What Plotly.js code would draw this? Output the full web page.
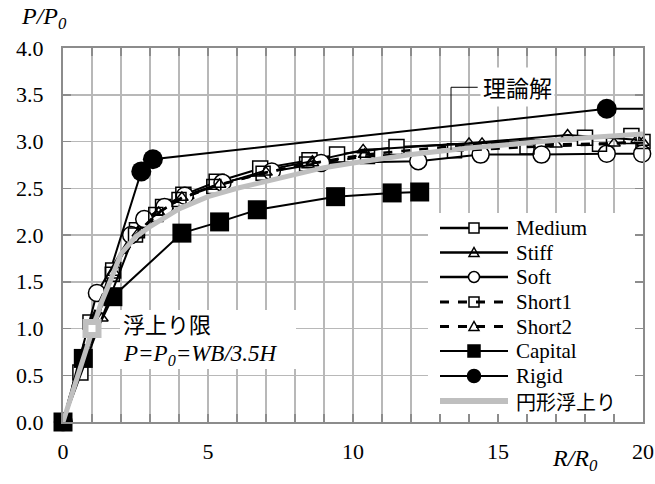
<!DOCTYPE html>
<html><head><meta charset="utf-8">
<script src="https://cdn.plot.ly/plotly-3.0.1.min.js"></script>
<style>body{margin:0;background:#fff}#c{width:655px;height:484px}</style>
</head><body><div id="c"></div>
<script>
// ---- data ----
const seriesNames = ['Medium','Stiff','Soft','Short1','Short2','Capital','Rigid','円形浮上り'];
const mediumX = [0,0.6,1.73,2.55,3.45,4.15,5.3,6.8,8.5,9.45,11.5,18.0,19.6];
const mediumY = [0,0.53,1.62,2.05,2.3,2.43,2.57,2.71,2.8,2.86,2.94,3.04,3.06];
const stiffX = [0,1.34,2.45,2.9,3.6,4.3,5.5,7.1,8.6,10.35,14.0,17.4,19.8];
const stiffY = [0,1.11,2.0,2.15,2.3,2.42,2.55,2.7,2.79,2.91,2.98,3.07,3.02];
const softX = [0,1.17,2.35,2.8,3.5,4.2,5.5,7.2,8.9,12.25,14.4,16.5,18.75,19.97];
const softY = [0,1.38,2.0,2.17,2.3,2.42,2.56,2.68,2.77,2.79,2.86,2.86,2.87,2.87];
const short1X = [0,0.93,1.7,2.5,3.2,4.0,5.2,6.9,8.4,10.5,13.5,16.0,18.5,20];
const short1Y = [0,1.07,1.58,2.0,2.22,2.38,2.52,2.66,2.76,2.84,2.9,2.94,2.97,3.0];
const short2X = [0,1.0,1.75,2.6,3.3,4.1,5.4,7.0,8.6,10.4,14.45,17.0,19.0,20];
const short2Y = [0,1.05,1.6,2.02,2.24,2.4,2.54,2.67,2.77,2.86,2.98,2.97,2.98,2.99];
const capitalX = [0,0.7,1.72,4.1,5.4,6.7,9.4,11.35,12.3];
const capitalY = [0,0.68,1.34,2.02,2.14,2.27,2.41,2.45,2.46];
const rigidX = [0,2.7,3.1,18.75,22];
const rigidY = [0,2.68,2.81,3.35,3.35];
const circX = [0,1,1.3,1.62,2,2.5,3,4,5,6,7,8,9,10,12,14,16,18,20];
const circY = [0,1,1.26,1.5,1.8,1.98,2.09,2.28,2.41,2.5,2.57,2.65,2.72,2.77,2.86,2.93,2.99,3.04,3.08];
const limitX = [1];
const limitY = [1];
const xTicks = [0,5,10,15,20];
const yTicks = [0,0.5,1,1.5,2,2.5,3,3.5,4];

const serif = 'Liberation Serif';
const cjk = 'Noto Sans CJK JP';

const traces = [
  {name:'Rigid', x:rigidX, y:rigidY, mode:'lines+markers', cliponaxis:true,
   line:{color:'#000',width:2}, marker:{symbol:'circle',size:20,color:'#000'}},
  {name:'Medium', x:mediumX, y:mediumY, mode:'lines+markers', cliponaxis:false,
   line:{color:'#000',width:2}, marker:{symbol:'square',size:15,color:'#fff',line:{color:'#000',width:1.5}}},
  {name:'Stiff', x:stiffX, y:stiffY, mode:'lines+markers', cliponaxis:false,
   line:{color:'#000',width:2}, marker:{symbol:'triangle-up-open',size:11,color:'#000',line:{width:1.5}}},
  {name:'Soft', x:softX, y:softY, mode:'lines+markers', cliponaxis:false,
   line:{color:'#000',width:2}, marker:{symbol:'circle',size:17,color:'#fff',line:{color:'#000',width:1.5}}},
  {name:'Short1', x:short1X, y:short1Y, mode:'lines+markers', cliponaxis:false,
   line:{color:'#000',width:2.5,dash:'dash'}, marker:{symbol:'square-open',size:14,color:'#000',line:{width:1.5}}},
  {name:'Short2', x:short2X, y:short2Y, mode:'lines+markers', cliponaxis:false,
   line:{color:'#000',width:2.5,dash:'dash'}, marker:{symbol:'triangle-up-open',size:11,color:'#000',line:{width:1.5}}},
  {name:'Capital', x:capitalX, y:capitalY, mode:'lines+markers', cliponaxis:false,
   line:{color:'#000',width:2}, marker:{symbol:'square',size:19,color:'#000'}},
  {name:'円形浮上り', x:circX, y:circY, mode:'lines', cliponaxis:false,
   line:{color:'#bfbfbf',width:5}},
  {name:'limit', x:limitX, y:limitY, mode:'markers', cliponaxis:false,
   marker:{symbol:'square',size:13,color:'#fff',line:{color:'#bfbfbf',width:6}}}
];

// ---- layout helpers (pixel -> paper) ----
const L = 63, R = 643, T = 48, B = 422;
const px = v => (v - L) / (R - L);
const py = v => (B - v) / (B - T);

const shapes = [
  {type:'line',xref:'x',yref:'y',x0:13.38,x1:13.38,y0:3.58,y1:2.91,line:{color:'#000',width:1}},
  {type:'line',xref:'x',yref:'y',x0:13.38,x1:14.3,y0:3.58,y1:3.58,line:{color:'#000',width:1}},
  // white boxes
  {type:'rect',xref:'paper',yref:'paper',layer:'above',x0:px(428),x1:px(635),y0:py(414),y1:py(213),
   fillcolor:'#fff',line:{width:0}},
  {type:'rect',xref:'paper',yref:'paper',layer:'above',x0:px(120),x1:px(296),y0:py(369),y1:py(310),
   fillcolor:'#fff',line:{width:0}}
];
const rowsY = [228,252.5,277,302,326.5,351,376,401];
const styles = [
  {dash:'solid', w:2.5, m:'sqw'},
  {dash:'solid', w:2.5, m:'tri'},
  {dash:'solid', w:2.5, m:'cirw'},
  {dash:'dash', w:3, m:'sqo'},
  {dash:'dash', w:3, m:'tri'},
  {dash:'solid', w:2, m:'sqf'},
  {dash:'solid', w:2, m:'cirf'},
  {dash:'solid', w:6, m:'none', color:'#bfbfbf'}
];
const annotations = [
  {xref:'paper',yref:'paper',x:px(44),y:py(18),xanchor:'center',yanchor:'middle',showarrow:false,
   text:'<i>P/P<sub>0</sub></i>',font:{family:serif,size:24,color:'#000'}},
  {xref:'paper',yref:'paper',x:px(575),y:py(460),xanchor:'center',yanchor:'middle',showarrow:false,
   text:'<i>R/R<sub>0</sub></i>',font:{family:serif,size:24,color:'#000'}},
  {xref:'paper',yref:'paper',x:px(480),y:py(87),xanchor:'left',yanchor:'middle',showarrow:false,
   text:'理論解',font:{family:cjk,size:23,color:'#000'},bgcolor:'#fff',borderpad:2},
  {xref:'paper',yref:'paper',x:px(121),y:py(323),xanchor:'left',yanchor:'middle',showarrow:false,
   text:'浮上り限',font:{family:cjk,size:22,color:'#000'}},
  {xref:'paper',yref:'paper',x:px(121),y:py(355),xanchor:'left',yanchor:'middle',showarrow:false,
   text:'<i>P=P<sub>0</sub>=WB/3.5H</i>',font:{family:serif,size:23,color:'#000'}}
];
rowsY.forEach((y, i) => {
  const s = styles[i];
  shapes.push({type:'line',xref:'paper',yref:'paper',layer:'above',x0:px(440),x1:px(508),y0:py(y),y1:py(y),
    line:{color:s.color||'#000',width:s.w,dash:s.dash}});
  const cx = 474, h = 5;
  if (s.m === 'sqw' || s.m === 'sqo' || s.m === 'sqf') {
    const hh = s.m === 'sqf' ? 6 : h;
    shapes.push({type:'rect',xref:'paper',yref:'paper',layer:'above',x0:px(cx-hh),x1:px(cx+hh),y0:py(y+hh),y1:py(y-hh),
      fillcolor: s.m === 'sqw' ? '#fff' : (s.m === 'sqf' ? '#000' : 'rgba(0,0,0,0)'), line:{color:'#000',width:1.5}});
  } else if (s.m === 'cirw' || s.m === 'cirf') {
    const r = s.m === 'cirf' ? 6.5 : 5.5;
    shapes.push({type:'circle',xref:'paper',yref:'paper',layer:'above',x0:px(cx-r),x1:px(cx+r),y0:py(y+r),y1:py(y-r),
      fillcolor: s.m === 'cirw' ? '#fff' : '#000', line:{color:'#000',width:1.5}});
  } else if (s.m === 'tri') {
    const p = `M${px(cx-5)},${py(y+4)} L${px(cx+5)},${py(y+4)} L${px(cx)},${py(y-5)} Z`;
    shapes.push({type:'path',xref:'paper',yref:'paper',layer:'above',path:p,
      fillcolor:'rgba(0,0,0,0)',line:{color:'#000',width:1.5}});
  }
  annotations.push({xref:'paper',yref:'paper',x:px(514),y:py(y),xanchor:'left',yanchor:'middle',showarrow:false,
    text:seriesNames[i],font:{family: i===7 ? cjk : serif, size: i===7 ? 20 : 21, color:'#000'}});
});

const axisCommon = {
  showline:true, linecolor:'#8c8c8c', linewidth:2, mirror:'ticks',
  gridcolor:'#b8b8b8', gridwidth:1.5, zeroline:false,
  ticks:'inside', ticklen:8, tickcolor:'#8c8c8c', tickwidth:1.5,
  tickfont:{family:serif,size:22,color:'#000'}
};

const layout = {
  width:655, height:484,
  margin:{l:L,r:655-R,t:T,b:484-B},
  paper_bgcolor:'#fff', plot_bgcolor:'#fff',
  showlegend:false,
  xaxis:Object.assign({}, axisCommon, {range:[0,20], tickvals:xTicks, ticktext:xTicks.map(String),
    ticklabelstandoff:9,
    minor:{dtick:1, showgrid:true, gridcolor:'#b8b8b8', gridwidth:1.5, ticks:'inside', ticklen:8, tickcolor:'#8c8c8c'}}),
  yaxis:Object.assign({}, axisCommon, {range:[0,4], tickvals:yTicks, ticktext:yTicks.map(v=>v.toFixed(1)),
    ticklabelstandoff:13}),
  shapes:shapes,
  annotations:annotations
};

Plotly.newPlot('c', traces, layout, {displayModeBar:false, staticPlot:true});
</script></body></html>
